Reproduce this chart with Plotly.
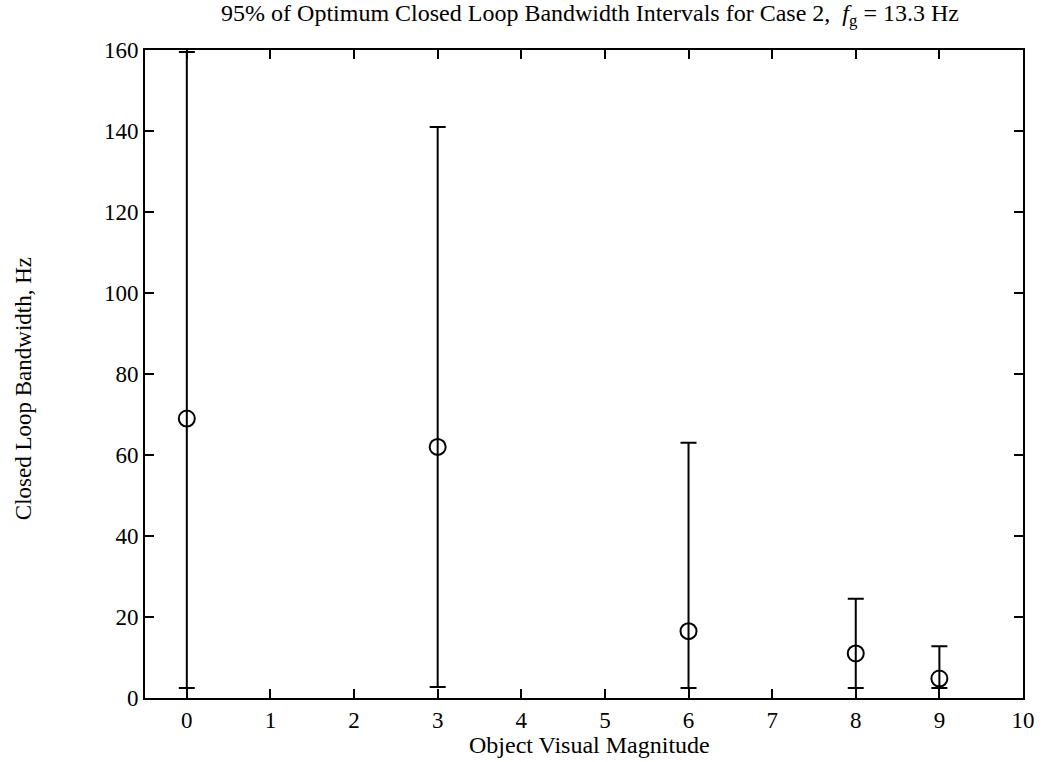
import plotly.graph_objects as go

magnitudes = [0, 3, 6, 8, 9]
optimum_bw = [69, 62, 16.5, 11, 4.8]
lower_bw = [2.5, 2.7, 2.5, 2.5, 2.5]
upper_bw = [159.5, 141, 63, 24.5, 12.8]

x_ticks = list(range(0, 11))
y_ticks = list(range(0, 161, 20))

err_plus = [u - c for u, c in zip(upper_bw, optimum_bw)]
err_minus = [c - l for c, l in zip(optimum_bw, lower_bw)]

font_family = "Liberation Serif, Times New Roman, serif"

fig = go.Figure()
fig.add_trace(go.Scatter(
    x=magnitudes, y=optimum_bw, mode="markers",
    marker=dict(symbol="circle-open", size=16, color="black", line=dict(width=2, color="black")),
    error_y=dict(type="data", symmetric=False, array=err_plus, arrayminus=err_minus,
                 color="black", thickness=2, width=8),
    showlegend=False,
))

fig.update_layout(
    width=1047, height=762,
    paper_bgcolor="white", plot_bgcolor="white",
    margin=dict(l=145, r=19, t=50, b=64),
    font=dict(family=font_family, color="black", size=23),
    title=dict(text="95% of Optimum Closed Loop Bandwidth Intervals for Case 2,  <i>f</i><sub>g</sub> = 13.3 Hz",
               x=0.5635, xanchor="center", y=0.995, yanchor="top",
               font=dict(size=24, family=font_family)),
    annotations=[
        dict(text="Object Visual Magnitude", xref="paper", yref="paper",
             x=0.506, y=-0.0725, xanchor="center", yanchor="middle",
             showarrow=False, font=dict(size=24, family=font_family)),
        dict(text="Closed Loop Bandwidth, Hz", xref="paper", yref="paper",
             x=-0.139, y=0.478, xanchor="center", yanchor="middle", textangle=-90,
             showarrow=False, font=dict(size=23, family=font_family)),
    ],
)
fig.update_xaxes(
    range=[-0.5, 10], tickvals=x_ticks, ticktext=[str(v) for v in x_ticks],
    ticks="inside", ticklen=9, tickwidth=2, tickcolor="black",
    showline=True, linecolor="black", linewidth=2, mirror="ticks",
    showgrid=False, zeroline=False,
    tickfont=dict(size=23),
)
fig.update_yaxes(
    range=[0, 160], tickvals=y_ticks, ticktext=[str(v) for v in y_ticks],
    ticks="inside", ticklen=9, tickwidth=2, tickcolor="black",
    showline=True, linecolor="black", linewidth=2, mirror="ticks",
    showgrid=False, zeroline=False,
    tickfont=dict(size=23),
)

fig.write_html("out.html", config={"displayModeBar": False},
               post_script="document.body.style.margin='0px';")
